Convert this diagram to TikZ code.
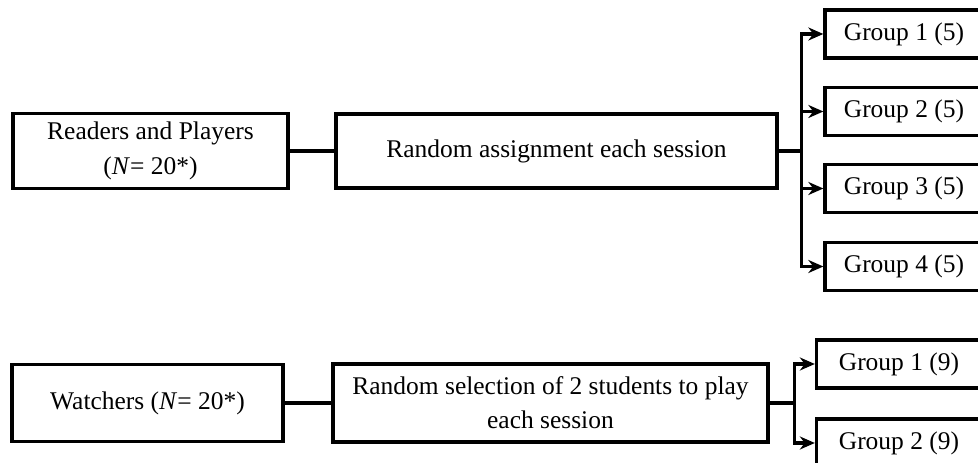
\documentclass[tikz,border=0pt]{standalone}
\usepackage{fontspec}
\setmainfont{Liberation Serif}
\usetikzlibrary{arrows.meta}

\tikzset{
  box/.style={draw, line width=1.9pt, fill=white, inner sep=0pt, align=center,
    font=\fontsize{14.5}{19.5}\selectfont},
  grp/.style={box, minimum width=3.16cm, minimum height=0.96cm},
  link/.style={line width=2.1pt},
  tolink/.style={link, -{Stealth[length=3mm, width=2.6mm]}}
}

\begin{document}
\begin{tikzpicture}[x=0.02cm, y=0.02cm]

\useasboundingbox (0,0) rectangle (978,463);
\clip (0,0) rectangle (978,463);

% Readers and players
\node[box, minimum width=5.5cm, minimum height=1.5cm] (readers) at (150.5,312)
  {Readers and Players\\(\textit{N}= 20*)};
\node[box, minimum width=8.82cm, minimum height=1.48cm] (assign) at (556.5,312)
  {Random assignment each session};

% Groups of five
\node[grp] (g1) at (904,429) {Group 1 (5)};
\node[grp] (g2) at (904,351.5) {Group 2 (5)};
\node[grp] (g3) at (904,274.5) {Group 3 (5)};
\node[grp] (g4) at (904,196.5) {Group 4 (5)};

\draw[link] (readers) -- (assign);
\path (assign.east) ++(23,0) coordinate (fork1);
\draw[link] (assign.east) -- (fork1);
\foreach \g in {g1,g2,g3,g4} {
  \draw[tolink] (fork1) |- (\g.west);
}

% Watchers
\node[box, minimum width=5.42cm, minimum height=1.54cm] (watch) at (147.5,60)
  {Watchers (\textit{N}= 20*)};
\node[box, minimum width=8.7cm, minimum height=1.56cm] (select) at (550.5,60)
  {Random selection of 2 students to play\\each session};

% Groups of nine
\node[box, minimum width=3.3cm, minimum height=0.96cm] (h1) at (899,99) {Group 1 (9)};
\node[box, minimum width=3.3cm, minimum height=0.96cm] (h2) at (899,20) {Group 2 (9)};

\draw[link] (watch) -- (select);
\path (select.east) ++(25,0) coordinate (fork2);
\draw[link] (select.east) -- (fork2);
\foreach \h in {h1,h2} {
  \draw[tolink] (fork2) |- (\h.west);
}

\end{tikzpicture}
\end{document}
